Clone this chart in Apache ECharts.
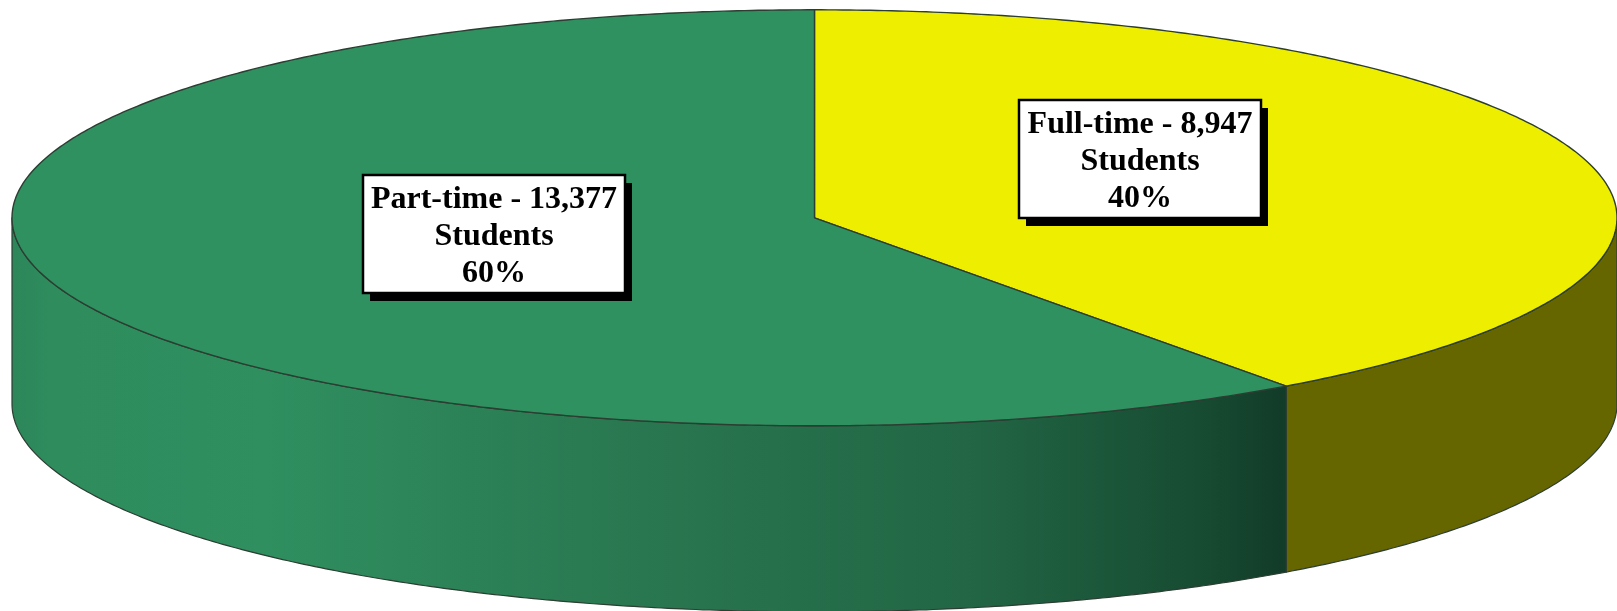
<!DOCTYPE html>
<html><head><meta charset="utf-8">
<style>html,body{margin:0;padding:0;background:#fff}#c{width:1617px;height:611px}</style>
<script src="https://cdn.jsdelivr.net/npm/echarts@6/dist/echarts.min.js"></script>
</head><body><div id="c"></div>
<script>
const categories = ['Full-time', 'Part-time'];
const students = ['8,947', '13,377'];
const percents = [40, 60];

const CX = 814.5, CY = 217.8, RX = 802.5, RY = 208, DEPTH = 186;
const topColors = ['#eeee00', '#2f9060'];
const sideFills = [
  '#666600',
  { type: 'linear', x: 0, y: 0, x2: 1, y2: 0, colorStops: [
    { offset: 0, color: '#2c8659' }, { offset: 0.03, color: '#2e8c5d' },
    { offset: 0.2, color: '#2f8f5f' }, { offset: 0.45, color: '#2a7a52' },
    { offset: 0.75, color: '#226645' }, { offset: 0.93, color: '#174c32' },
    { offset: 1, color: '#123b28' } ] }
];
const boxes = [
  { x: 1019, y: 100, w: 242, h: 118 },
  { x: 363, y: 175, w: 262, h: 118 }
];
const EDGE = '#2c3d32';
const SHADOW_X = 7, SHADOW_Y = 8;
const pt = (deg, dy) => {
  const a = deg * Math.PI / 180;
  return [CX + RX * Math.sin(a), CY - RY * Math.cos(a) + (dy || 0)];
};
const arc = (from, to, dy) => {
  const out = [], n = Math.max(2, Math.ceil(Math.abs(to - from) * 2));
  for (let i = 0; i <= n; i++) out.push(pt(from + (to - from) * i / n, dy));
  return out;
};
const total = percents.reduce((a, b) => a + b, 0);

function renderItem(params, api) {
  const i = params.dataIndex;
  let start = 0;
  for (let k = 0; k < i; k++) start += percents[k] / total * 360;
  const end = start + api.value(0) / total * 360;
  const children = [];
  const s0 = Math.max(start, 90), s1 = Math.min(end, 270);
  if (s1 > s0) {
    children.push({
      type: 'polygon',
      shape: { points: arc(s0, s1, 0).concat(arc(s1, s0, DEPTH)) },
      style: { fill: sideFills[i], stroke: EDGE, lineWidth: 1.2, lineJoin: 'round' }
    });
  }
  children.push({
    type: 'polygon',
    shape: { points: [[CX, CY]].concat(arc(start, end, 0)) },
    style: { fill: topColors[i], stroke: EDGE, lineWidth: 1.4, lineJoin: 'round' }
  });
  return { type: 'group', children };
}

function renderLabel(params, api) {
  const i = params.dataIndex, b = boxes[i];
  return { type: 'group', children: [
    { type: 'rect', shape: { x: b.x + SHADOW_X, y: b.y + SHADOW_Y, width: b.w, height: b.h }, style: { fill: '#000' } },
    { type: 'rect', shape: { x: b.x, y: b.y, width: b.w, height: b.h }, style: { fill: '#fff', stroke: '#000', lineWidth: 2.5 } },
    { type: 'text', style: {
        x: b.x + b.w / 2, y: b.y + b.h / 2 + 3,
        text: categories[i] + ' - ' + students[i] + '\nStudents\n' + api.value(0) + '%',
        fill: '#000', font: 'bold 32px "Liberation Serif"', lineHeight: 37,
        align: 'center', verticalAlign: 'middle' } }
  ] };
}

const chart = echarts.init(document.getElementById('c'), null, { renderer: 'canvas' });
chart.setOption({
  animation: false,
  backgroundColor: '#fff',
  series: [
    { type: 'custom', coordinateSystem: 'none', renderItem, data: percents.map(v => [v]), silent: true, z: 1 },
    { type: 'custom', coordinateSystem: 'none', renderItem: renderLabel, data: percents.map(v => [v]), silent: true, z: 2 }
  ]
});
</script></body></html>
